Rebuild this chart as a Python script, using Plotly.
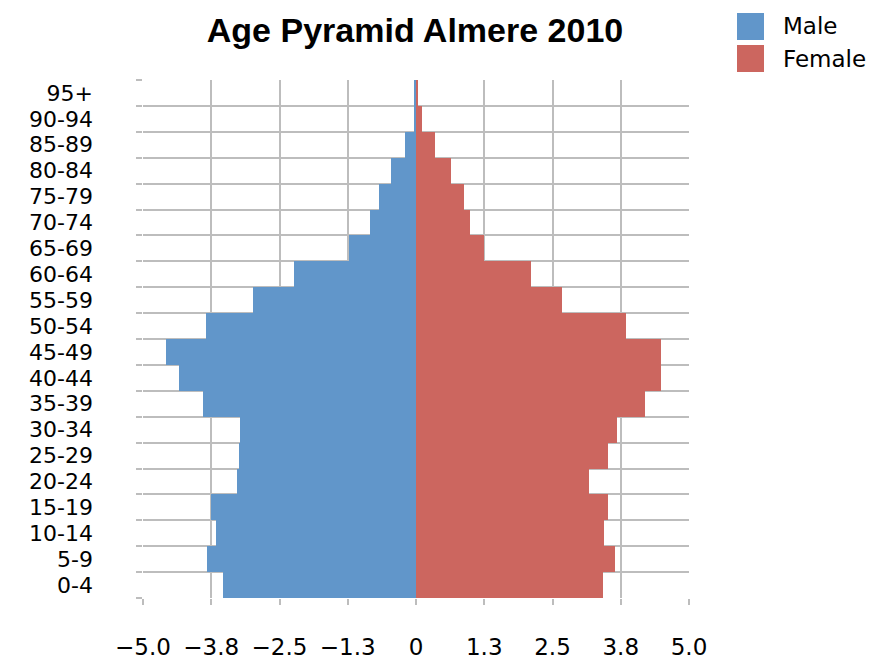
import plotly.graph_objects as go

age_groups = ["0-4", "5-9", "10-14", "15-19", "20-24", "25-29", "30-34", "35-39",
              "40-44", "45-49", "50-54", "55-59", "60-64", "65-69", "70-74", "75-79",
              "80-84", "85-89", "90-94", "95+"]
male = [-3.53, -3.83, -3.66, -3.75, -3.28, -3.24, -3.22, -3.90, -4.34, -4.57,
        -3.85, -2.98, -2.23, -1.23, -0.84, -0.68, -0.46, -0.20, -0.04, -0.02]
female = [3.42, 3.64, 3.44, 3.52, 3.17, 3.52, 3.68, 4.19, 4.49, 4.49,
          3.85, 2.67, 2.11, 1.245, 0.99, 0.88, 0.64, 0.35, 0.11, 0.03]
x_tickvals = [-5, -3.75, -2.5, -1.25, 0, 1.25, 2.5, 3.75, 5]
x_ticktext = ["\u22125.0", "\u22123.8", "\u22122.5", "\u22121.3", "0", "1.3", "2.5", "3.8", "5.0"]

blue = "#6196CA"
red = "#CC665F"
grid = "#BDBDBD"
font_fam = "DejaVu Sans"

W, H = 875, 663
L, R, T, B = 143, 186, 80, 65
PW, PH = W - L - R, H - T - B

fig = go.Figure()
fig.add_trace(go.Bar(y=age_groups, x=male, orientation="h", name="Male",
                     marker=dict(color=blue, line=dict(width=0)), showlegend=False))
fig.add_trace(go.Bar(y=age_groups, x=female, orientation="h", name="Female",
                     marker=dict(color=red, line=dict(width=0)), showlegend=False))

fig.update_layout(
    width=W, height=H,
    margin=dict(l=L, r=R, t=T, b=B, autoexpand=False),
    paper_bgcolor="white", plot_bgcolor="white",
    barmode="relative", bargap=0,
    title=dict(text="<b>Age Pyramid Almere 2010</b>", x=415 / W, xanchor="center",
               xref="container", yref="container",
               y=1 - 30 / H, yanchor="middle",
               font=dict(family="Liberation Sans", size=34, color="black")),
    font=dict(family=font_fam, size=24, color="black"),
)
fig.update_xaxes(range=[-5, 5], tickmode="array", tickvals=x_tickvals, ticktext=x_ticktext,
                 showgrid=True, gridcolor=grid, gridwidth=1.5, zeroline=False,
                 ticks="outside", ticklen=6, tickcolor=grid, tickwidth=1.5,
                 ticklabelstandoff=22, showline=False, automargin=False,
                 tickfont=dict(family=font_fam, size=23, color="black"))
fig.update_yaxes(type="category", categoryorder="array", categoryarray=age_groups,
                 range=[-0.5, 19.5], tickson="boundaries",
                 tickmode="linear", tick0=0, dtick=1,
                 showgrid=True, gridcolor=grid, gridwidth=1.5, zeroline=False,
                 ticks="outside", ticklen=6, tickcolor=grid, tickwidth=1.5,
                 ticklabelstandoff=49, showline=False, automargin=False,
                 tickfont=dict(family=font_fam, size=22, color="black"))

# legend drawn as shapes + text
legend_items = [("Male", blue), ("Female", red)]
for i, (name, col) in enumerate(legend_items):
    y0 = 13 + i * 32
    fig.add_shape(type="rect", xref="paper", yref="paper",
                  x0=(737 - L) / PW, x1=(764 - L) / PW,
                  y0=(H - B - (y0 + 27)) / PH, y1=(H - B - y0) / PH,
                  fillcolor=col, line=dict(width=0))
    fig.add_annotation(text=name, xref="paper", yref="paper",
                       x=(781 - L) / PW, y=(H - B - (y0 + 13.5)) / PH,
                       xanchor="left", yanchor="middle", showarrow=False,
                       font=dict(family=font_fam, size=23, color="black"))

fig.write_html("out.html", config={"displayModeBar": False},
               post_script="document.body.style.margin='0';document.body.style.overflow='hidden';")
